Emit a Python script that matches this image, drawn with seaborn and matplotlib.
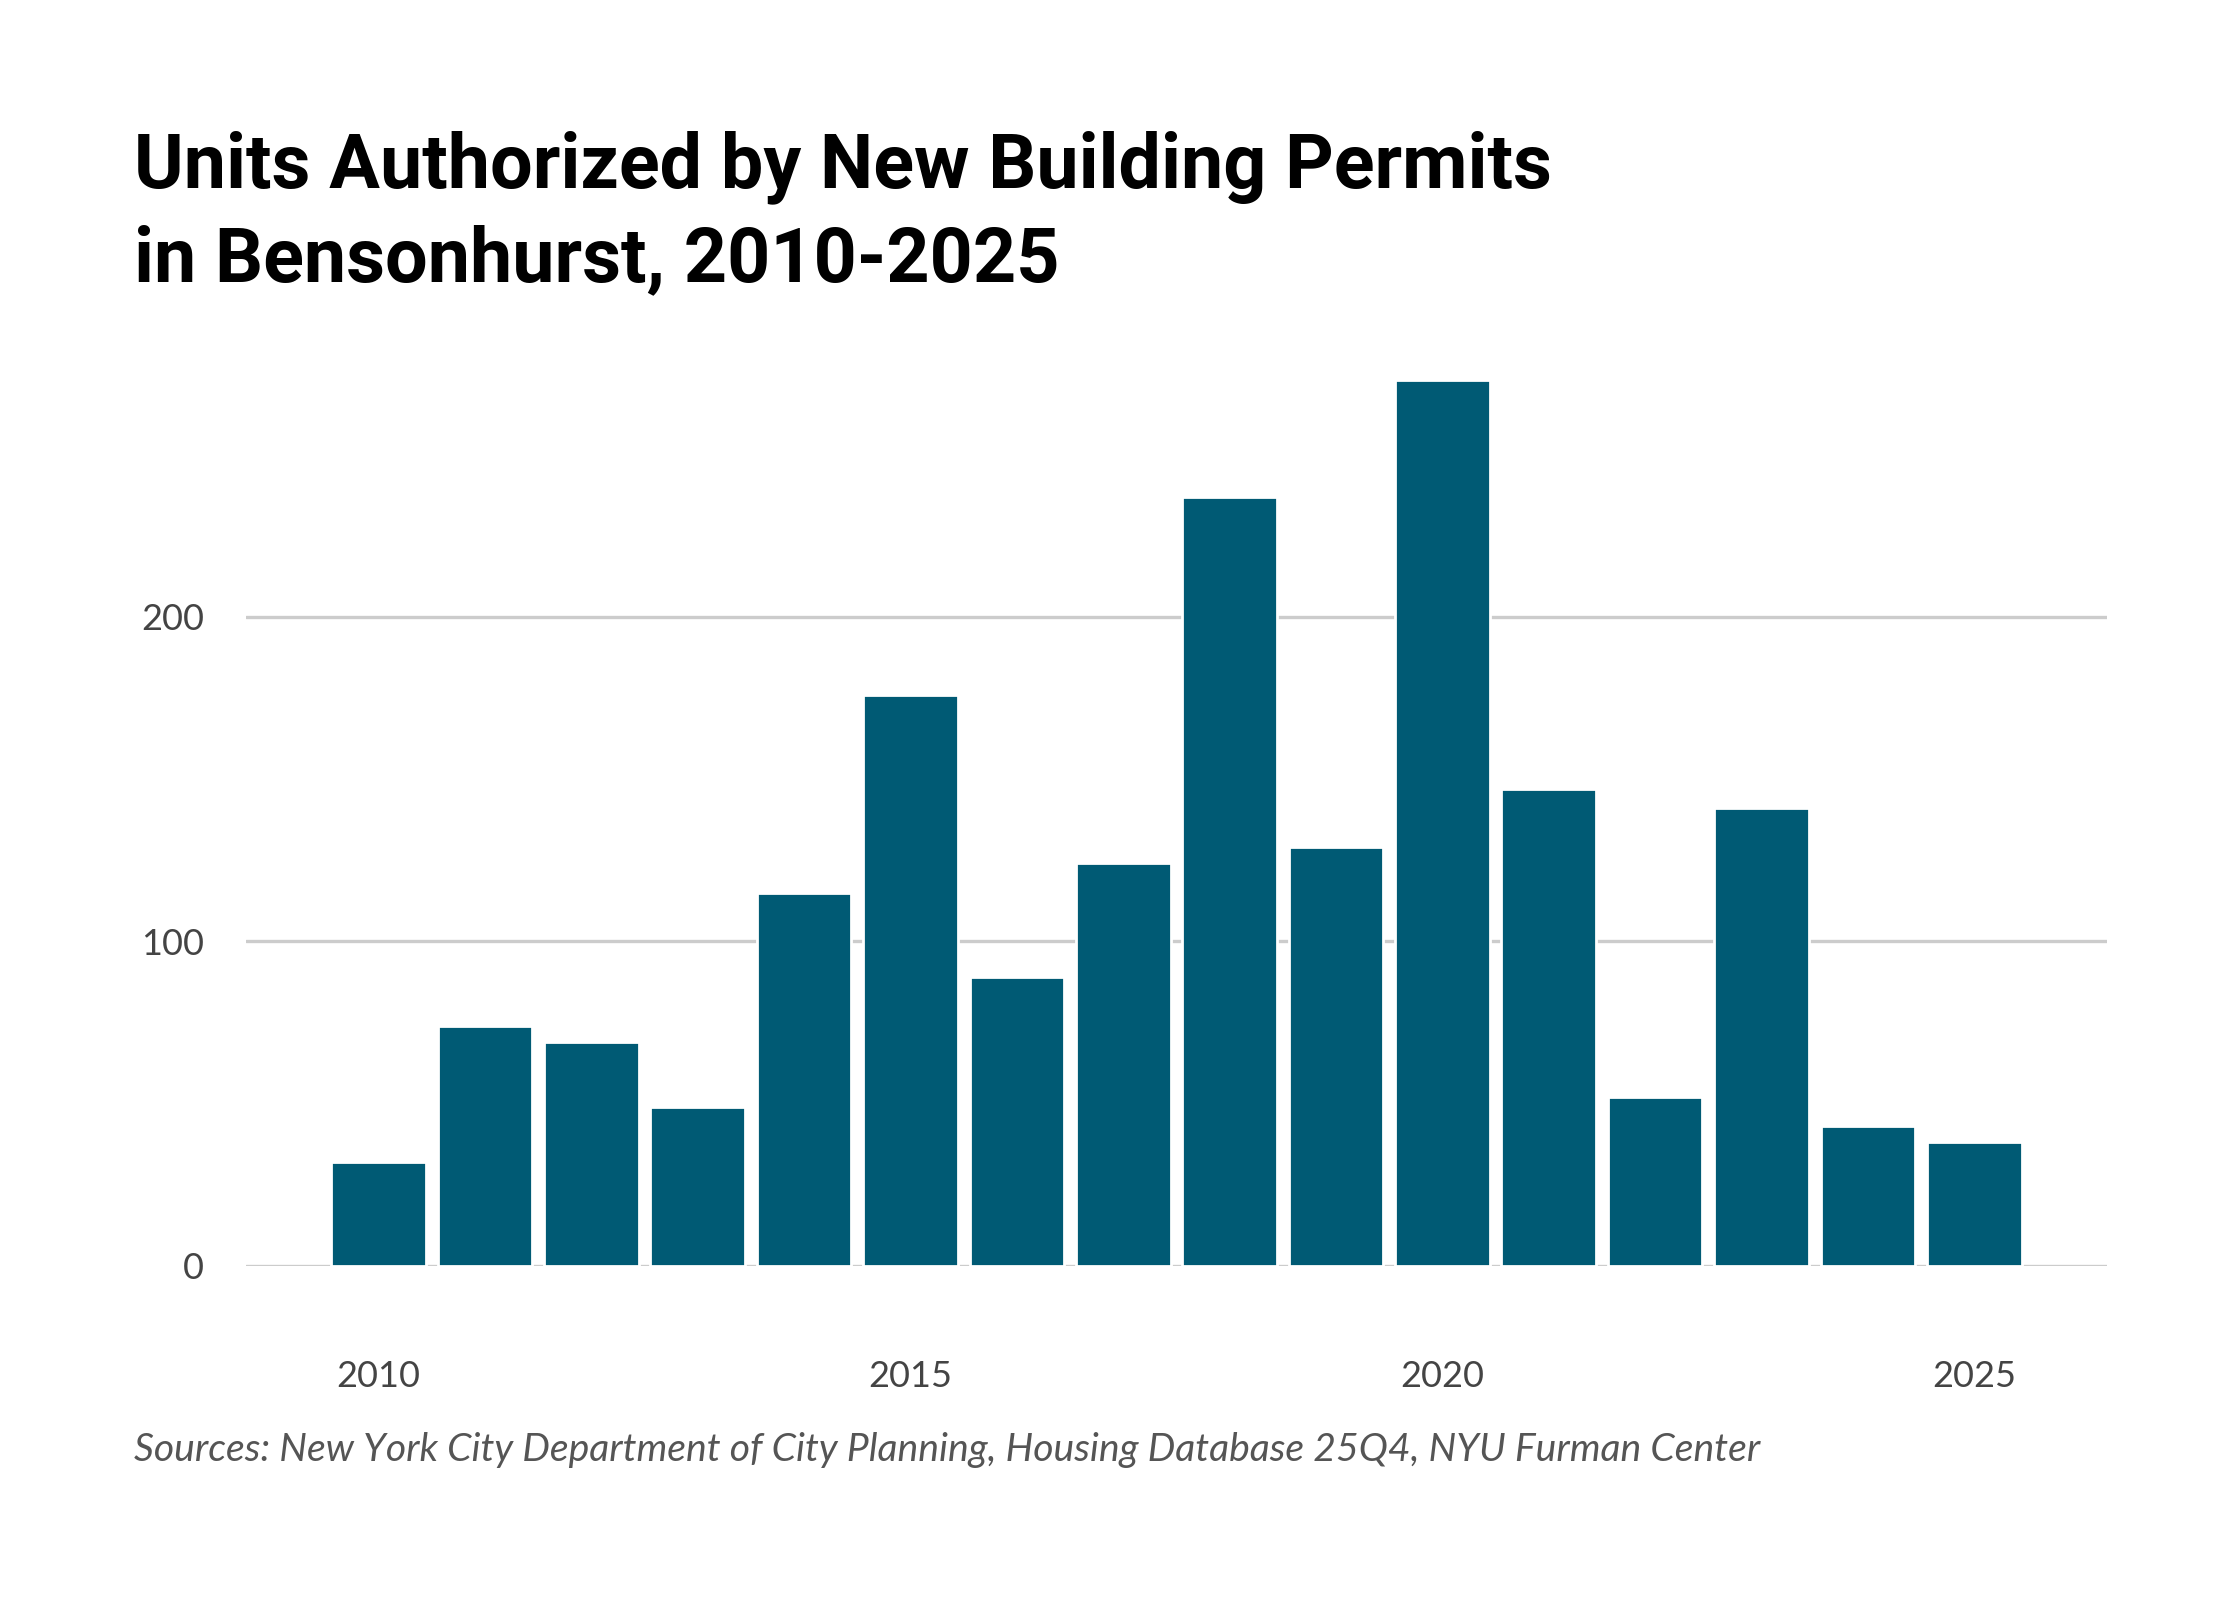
import matplotlib
matplotlib.use("Agg")
import matplotlib.pyplot as plt
import seaborn as sns
import pandas as pd

years = list(range(2010, 2026))
units = [32, 74, 69, 49, 115, 176, 89, 124, 237, 129, 273, 147, 52, 141, 43, 38]
tick_years = [2010, 2015, 2020, 2025]
y_ticks = [0, 100, 200]

title = "Units Authorized by New Building Permits\nin Bensonhurst, 2010-2025"
source = "Sources: New York City Department of City Planning, Housing Database 25Q4, NYU Furman Center"

sns.set_theme(style="white")
plt.rcParams['font.family'] = ['Lato', 'DejaVu Sans']

df = pd.DataFrame({"year": [str(y) for y in years], "units": units})

fig = plt.figure(figsize=(11.2, 8), dpi=200)
left, right = 0.1097, 0.9407
bottom = 0.209
height = 2.9 * 0.2027
ax = fig.add_axes([left, bottom, right - left, height])

sns.barplot(data=df, x="year", y="units", color="#005a74", saturation=1,
            width=0.89, ax=ax, zorder=3)

ax.set_xlim(-1.25, len(years) - 1 + 1.25)
ax.set_ylim(0, 290)
ax.set_yticks(y_ticks)
ax.set_yticklabels([str(v) for v in y_ticks])
ax.set_xticks([years.index(y) for y in tick_years])
ax.set_xticklabels([str(y) for y in tick_years])
for v in y_ticks:
    ax.axhline(v, color="#cccccc", lw=1.2, zorder=1)
ax.grid(False)
for s in ax.spines.values():
    s.set_visible(False)
ax.tick_params(axis="y", length=0, pad=15, labelsize=13, labelcolor="#444444")
ax.tick_params(axis="x", length=0, pad=34, labelsize=13, labelcolor="#444444")
ax.set_xlabel("")
ax.set_ylabel("")

fig.text(0.060, 0.824, title, fontsize=27.2, fontweight="bold", family=["Roboto", "DejaVu Sans"],
         color="#000000", va="baseline", ha="left", linespacing=1.36)
fig.text(0.060, 0.094, source, fontsize=14.1, fontstyle="italic", fontweight="normal",
         color="#555555", va="center", ha="left", family=["Lato", "DejaVu Sans"])

fig.savefig("out.png", dpi=200)
